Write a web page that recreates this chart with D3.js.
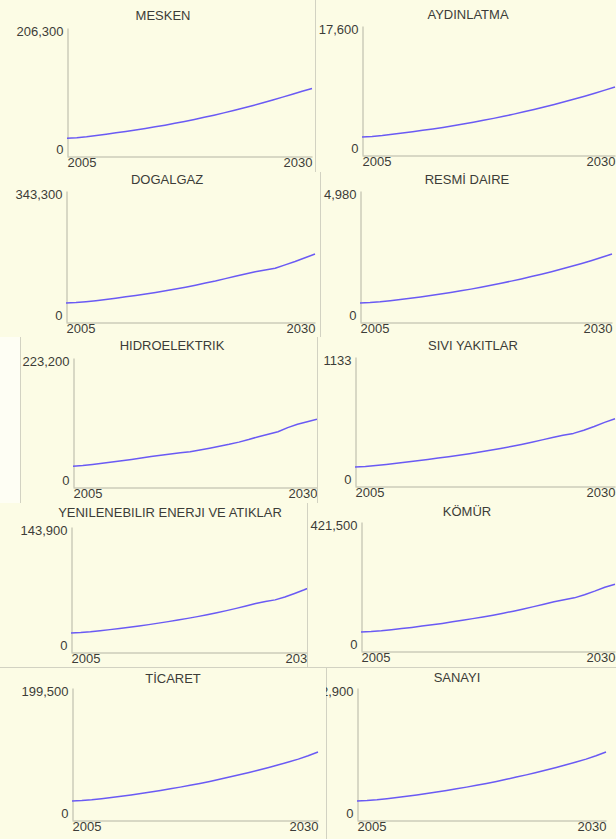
<!DOCTYPE html>
<html><head><meta charset="utf-8">
<script src="https://cdn.jsdelivr.net/npm/d3@7/dist/d3.min.js"></script>
<style>
body{margin:0;background:#fcfce5;}
svg{display:block;}
</style>
</head><body>
<svg id="chart" width="616" height="839"></svg>
<script>
// ---------- DATA ----------
const years = [2005,2006,2007,2008,2009,2010,2011,2012,2013,2014,2015,2016,2017,2018,2019,2020,2021,2022,2023,2024,2025,2026,2027,2028,2029,2030];
const xTickLabels = ["2005","2030"];
const titles = ["MESKEN","AYDINLATMA","DOGALGAZ","RESMİ DAIRE","HIDROELEKTRIK","SIVI YAKITLAR","YENILENEBILIR ENERJI VE ATIKLAR","KÖMÜR","TİCARET","SANAYI"];
const yMaxValues = [206300,17600,343300,4980,223200,1133,143900,421500,199500,382900];
const yMaxLabels = ["206,300","17,600","343,300","4,980","223,200","1133","143,900","421,500","199,500","382,900"];

const meskenValues = [28680,29500,30950,33010,35070,37340,39610,41880,44350,47040,49720,52610,55700,59000,62300,65810,69520,73440,77360,81490,85820,90360,94900,99640,104390,108930];
const aydinlatmaValues = [2464,2534,2658,2816,2992,3168,3362,3555,3766,3995,4224,4470,4734,4998,5280,5579,5896,6213,6547,6899,7269,7638,8026,8430,8853,9275];
const dogalgazValues = [49780,50810,53210,55960,59050,62480,65910,69350,73120,77240,81710,86510,91320,96470,101960,107450,113630,119810,125990,131830,136290,140750,149680,158610,168220,178170];
const resmiDaireValues = [722,737,767,807,852,901,951,1006,1061,1121,1185,1250,1320,1394,1474,1554,1638,1728,1818,1912,2012,2117,2226,2341,2460,2585];
const hidroelektrikValues = [35940,37270,39060,41070,43300,45530,47760,50220,52680,55130,57140,59150,61160,64060,67180,70530,73880,77670,82140,87050,91290,95530,102670,108700,112940,117180];
const siviYakitlarValues = [167,172,180,189,199,210,221,232,245,257,271,284,299,314,330,347,365,384,405,426,445,462,490,523,559,590];
const yenilenebilirValues = [21870,22450,23310,24460,25760,27050,28490,29930,31510,33240,34970,36840,38710,40720,42880,45180,47630,50220,52960,55830,58140,60010,63320,67350,71660,76270];
const komurValues = [61960,63650,66180,69550,73340,77130,81350,85560,90200,95260,100320,105800,111280,117180,123500,130240,137410,145000,153000,161010,167760,173660,183770,195580,208220,218000];
const ticaretValues = [28730,29330,30520,32120,33920,35910,37910,40100,42290,44690,47080,49680,52470,55260,58250,61450,64840,68230,71820,75610,79400,83390,87580,91970,97160,102740];
const sanayiValues = [55140,56290,58590,61650,65090,68920,72750,76960,81170,85770,90360,95340,100700,106060,111810,117930,124440,130950,137840,145120,152400,160050,168100,176520,186480,197190];

const seriesValues = [meskenValues,aydinlatmaValues,dogalgazValues,resmiDaireValues,hidroelektrikValues,siviYakitlarValues,yenilenebilirValues,komurValues,ticaretValues,sanayiValues];

// ---------- LAYOUT (panel geometry) ----------
// clip: [x0,y0,x1,y1]  plot: [left,top,right,bottom]  title: [cx,cy]
const layout = [
  {clip:[0,0,315,172],    plot:[67,28,312,156],   title:[163,15]},
  {clip:[315,0,616,172],  plot:[362,26,615,155],  title:[468,14]},
  {clip:[0,172,320,337],  plot:[66,191,315,322],  title:[167,179]},
  {clip:[320,172,616,337],plot:[360,191,612,322], title:[467,179]},
  {clip:[20,337,317,503], plot:[73,358,317,487],  title:[172,345]},
  {clip:[317,337,616,503],plot:[355,357,615,486], title:[473,345]},
  {clip:[0,503,307,668],  plot:[71,527,314,652],  title:[170,512]},
  {clip:[307,503,616,668],plot:[361,522,615,651], title:[467,511]},
  {clip:[0,668,322,839],  plot:[72,688,318,820],  title:[173,678]},
  {clip:[326,668,616,839],plot:[357,688,606,820], title:[457,677]}
];

const textColor = "#3c3c38";
const axisColor = "#b4b4a4";
const borderColor = "#d2d2c2";
const lineColor = "#6a5af4";
const font = "'Liberation Sans', Arial, sans-serif";

const svg = d3.select("#chart");
svg.append("rect").attr("x",0).attr("y",0).attr("width",616).attr("height",839).attr("fill","#fcfce5");
// lighter strip left of the third-row panel
svg.append("rect").attr("x",0).attr("y",337).attr("width",20).attr("height",166).attr("fill","#fefef4");

const defs = svg.append("defs");

layout.forEach((L, i) => {
  const [cx0, cy0, cx1, cy1] = L.clip;
  const [left, top, right, bottom] = L.plot;
  defs.append("clipPath").attr("id", "clip" + i)
    .append("rect").attr("x", cx0).attr("y", cy0).attr("width", cx1 - cx0).attr("height", cy1 - cy0);

  const g = svg.append("g").attr("clip-path", "url(#clip" + i + ")");

  if (cx0 > 0) {
    g.append("line").attr("x1", cx0 + 0.5).attr("x2", cx0 + 0.5)
      .attr("y1", cy0).attr("y2", cy1)
      .attr("stroke", borderColor).attr("stroke-width", 1);
  }

  const x = d3.scaleLinear().domain([years[0], years[years.length - 1]]).range([left, right]);
  const y = d3.scaleLinear().domain([0, yMaxValues[i]]).range([bottom, top]);

  g.append("text").attr("x", L.title[0]).attr("y", L.title[1])
    .attr("text-anchor", "middle").attr("dominant-baseline", "central")
    .attr("font-family", font).attr("font-size", 13).attr("fill", textColor)
    .text(titles[i]);

  const yAxis = d3.axisLeft(y).tickValues([0, yMaxValues[i]]).tickSize(0).tickPadding(4)
    .tickFormat((d) => d === 0 ? "0" : yMaxLabels[i]);
  const ya = g.append("g").attr("transform", `translate(${left + 0.5},0)`).call(yAxis);
  ya.select(".domain").attr("stroke", axisColor);
  ya.selectAll(".tick text").attr("font-family", font).attr("font-size", 13).attr("fill", textColor)
    .attr("dy", (d) => d === 0 ? "-0.2em" : "0.55em");

  const xAxis = d3.axisBottom(x).tickValues([years[0], years[years.length - 1]]).tickSize(0).tickPadding(3)
    .tickFormat((d, k) => xTickLabels[k]);
  const xa = g.append("g").attr("transform", `translate(0,${bottom + 0.5})`).call(xAxis);
  xa.select(".domain").attr("stroke", axisColor);
  xa.selectAll(".tick text").attr("font-family", font).attr("font-size", 13).attr("fill", textColor)
    .attr("text-anchor", (d, k) => k === 0 ? "start" : "end").attr("dy", "0.6em");

  const line = d3.line().x((d, k) => x(years[k])).y((d) => y(d));
  g.append("path").datum(seriesValues[i])
    .attr("d", line).attr("fill", "none")
    .attr("stroke", lineColor).attr("stroke-width", 1.5).attr("stroke-linejoin", "round");
});

svg.append("line").attr("x1", 0).attr("x2", 616).attr("y1", 667.5).attr("y2", 667.5)
  .attr("stroke", borderColor).attr("stroke-width", 1);
</script>
</body></html>
